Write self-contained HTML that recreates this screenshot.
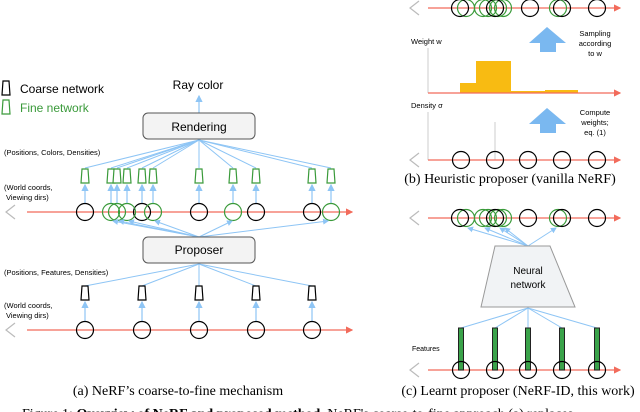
<!DOCTYPE html>
<html><head><meta charset="utf-8"><style>
html,body{margin:0;padding:0;background:#fff;}
svg{display:block;}
text{font-family:"Liberation Sans",sans-serif;}
.s{font-family:"Liberation Serif",serif;}
</style></head><body>
<svg width="640" height="412" viewBox="0 0 640 412" xmlns="http://www.w3.org/2000/svg">
<defs>
<marker id="ab" markerWidth="6" markerHeight="6" refX="5" refY="3" orient="auto"><path d="M0,0 L6,3 L0,6 z" fill="#8ec5f5"/></marker>
<marker id="ar" markerWidth="6" markerHeight="6" refX="5" refY="3" orient="auto"><path d="M0,0 L6,3 L0,6 z" fill="#f26b5b"/></marker>
<g id="tk"><path d="M-3,-7 L3,-7 L4,7 L-4,7 z" fill="#fff" stroke="#000" stroke-width="1.2"/></g>
<g id="tg"><path d="M-3,-7 L3,-7 L4,7 L-4,7 z" fill="#fff" stroke="#3a9a3a" stroke-width="1.2"/></g>
<g id="eye"><path d="M9,-7 L0,0 L9,7" fill="none" stroke="#bbb" stroke-width="1.2"/></g>
</defs>

<use href="#tk" x="6" y="88"/>
<text x="20" y="93" font-size="12">Coarse network</text>
<use href="#tg" x="6" y="107"/>
<text x="20" y="112" font-size="12" fill="#3a9a3a">Fine network</text>

<text x="198" y="89" font-size="12" text-anchor="middle">Ray color</text>
<line x1="199" y1="113" x2="199" y2="96" stroke="#8ec5f5" stroke-width="1.2" marker-end="url(#ab)"/>
<rect x="143" y="113" width="112" height="26" rx="5" fill="#f3f3f3" stroke="#555" stroke-width="1"/>
<text x="199" y="131" font-size="12" text-anchor="middle">Rendering</text>
<text x="4" y="155" font-size="7.5">(Positions, Colors, Densities)</text>
<text x="4" y="190" font-size="7.5">(World coords,</text>
<text x="6" y="200" font-size="7.5">Viewing dirs)</text>

<g stroke="#8ec5f5" stroke-width="1">
<line x1="85" y1="168" x2="199" y2="140"/><line x1="111" y1="168" x2="199" y2="140"/><line x1="117" y1="168" x2="199" y2="140"/>
<line x1="127" y1="168" x2="199" y2="140"/><line x1="142" y1="168" x2="199" y2="140"/><line x1="153" y1="168" x2="199" y2="140"/>
<line x1="199" y1="168" x2="199" y2="140"/><line x1="233" y1="168" x2="199" y2="140"/><line x1="256" y1="168" x2="199" y2="140"/>
<line x1="312" y1="168" x2="199" y2="140"/><line x1="331" y1="168" x2="199" y2="140"/>
</g>
<g stroke="#8ec5f5" stroke-width="1.2">
<line x1="85" y1="203" x2="85" y2="185" marker-end="url(#ab)"/>
<line x1="111" y1="203" x2="111" y2="185" marker-end="url(#ab)"/>
<line x1="117" y1="203" x2="117" y2="185" marker-end="url(#ab)"/>
<line x1="127" y1="203" x2="127" y2="185" marker-end="url(#ab)"/>
<line x1="142" y1="203" x2="142" y2="185" marker-end="url(#ab)"/>
<line x1="153" y1="203" x2="153" y2="185" marker-end="url(#ab)"/>
<line x1="199" y1="203" x2="199" y2="185" marker-end="url(#ab)"/>
<line x1="233" y1="203" x2="233" y2="185" marker-end="url(#ab)"/>
<line x1="256" y1="203" x2="256" y2="185" marker-end="url(#ab)"/>
<line x1="312" y1="203" x2="312" y2="185" marker-end="url(#ab)"/>
<line x1="331" y1="203" x2="331" y2="185" marker-end="url(#ab)"/>
</g>
<use href="#tg" x="85" y="176"/><use href="#tg" x="111" y="176"/><use href="#tg" x="117" y="176"/><use href="#tg" x="127" y="176"/>
<use href="#tg" x="142" y="176"/><use href="#tg" x="153" y="176"/><use href="#tg" x="199" y="176"/><use href="#tg" x="233" y="176"/>
<use href="#tg" x="256" y="176"/><use href="#tg" x="312" y="176"/><use href="#tg" x="331" y="176"/>

<use href="#eye" x="6" y="212"/>
<line x1="27" y1="212" x2="352" y2="212" stroke="#f26b5b" stroke-width="1.2" marker-end="url(#ar)"/>
<g fill="none" stroke-width="1.2">
<g stroke="#000"><circle cx="85" cy="212" r="8.5"/><circle cx="142" cy="212" r="8.5"/><circle cx="199" cy="212" r="8.5"/><circle cx="256" cy="212" r="8.5"/><circle cx="312" cy="212" r="8.5"/></g>
<g stroke="#3a9a3a"><circle cx="111" cy="212" r="8.5"/><circle cx="117" cy="212" r="8.5"/><circle cx="127" cy="212" r="8.5"/><circle cx="153" cy="212" r="8.5"/><circle cx="233" cy="212" r="8.5"/><circle cx="331" cy="212" r="8.5"/></g>
</g>
<g stroke="#8ec5f5" stroke-width="1">
<line x1="199" y1="237" x2="113" y2="221" marker-end="url(#ab)"/><line x1="199" y1="237" x2="119" y2="221" marker-end="url(#ab)"/>
<line x1="199" y1="237" x2="129" y2="221" marker-end="url(#ab)"/><line x1="199" y1="237" x2="155" y2="221" marker-end="url(#ab)"/>
<line x1="199" y1="237" x2="232" y2="221" marker-end="url(#ab)"/><line x1="199" y1="237" x2="328" y2="221" marker-end="url(#ab)"/>
</g>
<rect x="143" y="237" width="112" height="26" rx="5" fill="#f3f3f3" stroke="#555" stroke-width="1"/>
<text x="199" y="254" font-size="12" text-anchor="middle">Proposer</text>
<text x="4" y="275" font-size="7.5">(Positions, Features, Densities)</text>
<text x="4" y="308" font-size="7.5">(World coords,</text>
<text x="6" y="318" font-size="7.5">Viewing dirs)</text>
<g stroke="#8ec5f5" stroke-width="1">
<line x1="85" y1="286" x2="199" y2="264"/><line x1="142" y1="286" x2="199" y2="264"/><line x1="199" y1="286" x2="199" y2="264"/><line x1="256" y1="286" x2="199" y2="264"/><line x1="312" y1="286" x2="199" y2="264"/>
</g>
<g stroke="#8ec5f5" stroke-width="1.2">
<line x1="85" y1="321" x2="85" y2="302" marker-end="url(#ab)"/><line x1="142" y1="321" x2="142" y2="302" marker-end="url(#ab)"/>
<line x1="199" y1="321" x2="199" y2="302" marker-end="url(#ab)"/><line x1="256" y1="321" x2="256" y2="302" marker-end="url(#ab)"/>
<line x1="312" y1="321" x2="312" y2="302" marker-end="url(#ab)"/>
</g>
<use href="#tk" x="85" y="293"/><use href="#tk" x="142" y="293"/><use href="#tk" x="199" y="293"/><use href="#tk" x="256" y="293"/><use href="#tk" x="312" y="293"/>
<use href="#eye" x="6" y="330"/>
<line x1="27" y1="330" x2="352" y2="330" stroke="#f26b5b" stroke-width="1.2" marker-end="url(#ar)"/>
<g fill="none" stroke="#000" stroke-width="1.2"><circle cx="85" cy="330" r="8.5"/><circle cx="142" cy="330" r="8.5"/><circle cx="199" cy="330" r="8.5"/><circle cx="256" cy="330" r="8.5"/><circle cx="312" cy="330" r="8.5"/></g>
<text class="s" x="178" y="395" font-size="14" text-anchor="middle">(a) NeRF’s coarse-to-fine mechanism</text>

<use href="#eye" x="410" y="8"/>
<line x1="428" y1="8" x2="620" y2="8" stroke="#f26b5b" stroke-width="1.2" marker-end="url(#ar)"/>
<g fill="none" stroke-width="1.2">
<g stroke="#3a9a3a"><circle cx="466" cy="8" r="8.5"/><circle cx="483" cy="8" r="8.5"/><circle cx="488" cy="8" r="8.5"/><circle cx="498" cy="8" r="8.5"/><circle cx="503" cy="8" r="8.5"/><circle cx="558" cy="8" r="8.5"/></g>
<g stroke="#000"><circle cx="460" cy="8" r="8.5"/><circle cx="495" cy="8" r="8.5"/><circle cx="530" cy="8" r="8.5"/><circle cx="562" cy="8" r="8.5"/><circle cx="597" cy="8" r="8.5"/></g>
</g>
<text x="411" y="44" font-size="7.5">Weight w</text>
<line x1="428" y1="93" x2="428" y2="48" stroke="#ccc" stroke-width="1"/>
<rect x="460" y="83" width="16" height="10" fill="#f8bb12"/>
<rect x="476" y="61" width="35" height="32" fill="#f8bb12"/>
<rect x="511" y="91" width="34" height="2" fill="#f8bb12"/>
<rect x="545" y="90" width="33" height="3" fill="#f8bb12"/>
<line x1="428" y1="93" x2="620" y2="93" stroke="#f26b5b" stroke-width="1.2" marker-end="url(#ar)"/>
<path d="M547,27 L566,43 L556,43 L556,52 L540,52 L540,43 L529,43 z" fill="#7ab8f0"/>
<text x="595" y="36" font-size="7.5" text-anchor="middle">Sampling</text>
<text x="595" y="46" font-size="7.5" text-anchor="middle">according</text>
<text x="595" y="56" font-size="7.5" text-anchor="middle">to w</text>
<text x="411" y="108" font-size="7.5">Density σ</text>
<line x1="428" y1="160" x2="428" y2="112" stroke="#ccc" stroke-width="1"/>
<line x1="495" y1="160" x2="495" y2="122" stroke="#ccc" stroke-width="1"/>
<path d="M547,108 L566,124 L556,124 L556,133 L540,133 L540,124 L529,124 z" fill="#7ab8f0"/>
<text x="595" y="115" font-size="7.5" text-anchor="middle">Compute</text>
<text x="595" y="125" font-size="7.5" text-anchor="middle">weights;</text>
<text x="595" y="135" font-size="7.5" text-anchor="middle">eq. (1)</text>
<use href="#eye" x="410" y="160"/>
<line x1="428" y1="160" x2="620" y2="160" stroke="#f26b5b" stroke-width="1.2" marker-end="url(#ar)"/>
<g fill="none" stroke="#000" stroke-width="1.2"><circle cx="461" cy="160" r="8.5"/><circle cx="495" cy="160" r="8.5"/><circle cx="528" cy="160" r="8.5"/><circle cx="562" cy="160" r="8.5"/><circle cx="597" cy="160" r="8.5"/></g>
<text class="s" x="510" y="183" font-size="14" text-anchor="middle">(b) Heuristic proposer (vanilla NeRF)</text>

<use href="#eye" x="410" y="218"/>
<line x1="428" y1="218" x2="620" y2="218" stroke="#f26b5b" stroke-width="1.2" marker-end="url(#ar)"/>
<g fill="none" stroke-width="1.2">
<g stroke="#3a9a3a"><circle cx="466" cy="218" r="8.5"/><circle cx="483" cy="218" r="8.5"/><circle cx="488" cy="218" r="8.5"/><circle cx="498" cy="218" r="8.5"/><circle cx="503" cy="218" r="8.5"/><circle cx="558" cy="218" r="8.5"/></g>
<g stroke="#000"><circle cx="460" cy="218" r="8.5"/><circle cx="495" cy="218" r="8.5"/><circle cx="528" cy="218" r="8.5"/><circle cx="562" cy="218" r="8.5"/><circle cx="597" cy="218" r="8.5"/></g>
</g>
<g stroke="#8ec5f5" stroke-width="1">
<line x1="528" y1="246" x2="468" y2="228" marker-end="url(#ab)"/><line x1="528" y1="246" x2="485" y2="228" marker-end="url(#ab)"/>
<line x1="528" y1="246" x2="500" y2="228" marker-end="url(#ab)"/><line x1="528" y1="246" x2="505" y2="228" marker-end="url(#ab)"/>
<line x1="528" y1="246" x2="556" y2="228" marker-end="url(#ab)"/>
</g>
<path d="M495,246 L550,246 L575,307 L481,307 z" fill="#f1f3f5" stroke="#999" stroke-width="1"/>
<text x="528" y="274" font-size="10" text-anchor="middle">Neural</text>
<text x="528" y="288" font-size="10" text-anchor="middle">network</text>
<g stroke="#8ec5f5" stroke-width="1">
<line x1="461" y1="328" x2="528" y2="308"/><line x1="495" y1="328" x2="528" y2="308"/>
<line x1="528" y1="328" x2="528" y2="308"/><line x1="562" y1="328" x2="528" y2="308"/>
<line x1="597" y1="328" x2="528" y2="308"/>
</g>
<text x="412" y="351" font-size="7">Features</text>
<use href="#eye" x="410" y="370"/>
<line x1="428" y1="370" x2="620" y2="370" stroke="#f26b5b" stroke-width="1.2" marker-end="url(#ar)"/>
<g fill="#3aa34a" stroke="#222" stroke-width="1">
<rect x="458.5" y="328" width="5" height="42"/><rect x="492.5" y="328" width="5" height="42"/><rect x="525.5" y="328" width="5" height="42"/><rect x="559.5" y="328" width="5" height="42"/><rect x="594.5" y="328" width="5" height="42"/>
</g>
<g fill="none" stroke="#000" stroke-width="1.2"><circle cx="461" cy="370" r="8.5"/><circle cx="495" cy="370" r="8.5"/><circle cx="528" cy="370" r="8.5"/><circle cx="562" cy="370" r="8.5"/><circle cx="597" cy="370" r="8.5"/></g>
<text class="s" x="518" y="395" font-size="14" text-anchor="middle">(c) Learnt proposer (NeRF-ID, this work)</text>

<text class="s" x="22" y="418" font-size="14">Figure 1: <tspan font-weight="bold">Overview of NeRF and proposed method.</tspan> NeRF's coarse-to-fine approach (a) replaces</text>
</svg>
</body></html>
